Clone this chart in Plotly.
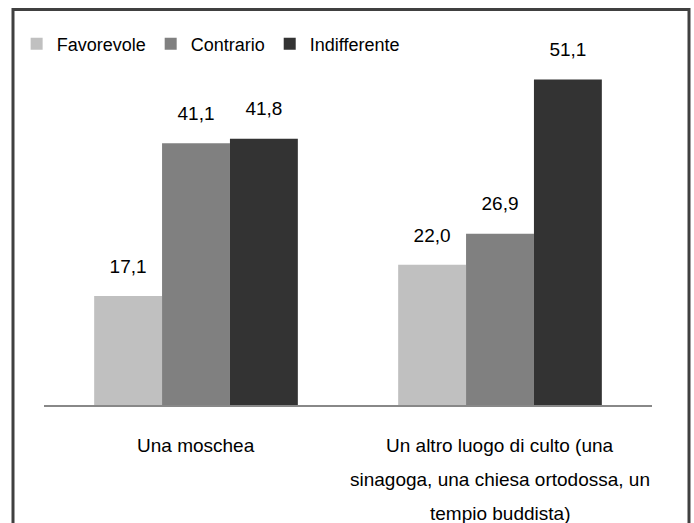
import plotly.graph_objects as go

CATEGORIES = ["Una moschea", "Un altro luogo di culto"]
CATEGORY_LINES = [
    ["Una moschea"],
    ["Un altro luogo di culto (una", "sinagoga, una chiesa ortodossa, un", "tempio buddista)"],
]
SERIES = ["Favorevole", "Contrario", "Indifferente"]
VALUES = {
    "Favorevole": [17.1, 22.0],
    "Contrario": [41.1, 26.9],
    "Indifferente": [41.8, 51.1],
}
COLORS = {"Favorevole": "#c0c0c0", "Contrario": "#808080", "Indifferente": "#333333"}

FONT = "Liberation Sans, Arial, sans-serif"
GAP = 0.33

fig = go.Figure()

for name in SERIES:
    fig.add_trace(go.Bar(
        x=CATEGORIES, y=VALUES[name],
        name=name,
        marker=dict(color=COLORS[name], line=dict(width=0)),
        hoverinfo="skip",
    ))

# value labels, grouped the same way as the bars
for name in SERIES:
    fig.add_trace(go.Scatter(
        x=CATEGORIES, y=VALUES[name],
        mode="markers+text",
        marker=dict(size=28, opacity=0),
        texttemplate="%{y:.1f}",
        textposition="top center",
        textfont=dict(size=19, color="#000000", family=FONT),
        showlegend=False,
        hoverinfo="skip",
        cliponaxis=False,
    ))

annotations = []
for cat, lines in zip(CATEGORIES, CATEGORY_LINES):
    for i, line in enumerate(lines):
        annotations.append(dict(
            x=cat, xref="x", y=0, yref="paper",
            text=line, showarrow=False,
            yanchor="middle", yshift=-40 - 34 * i,
            font=dict(size=19, color="#000000", family=FONT),
        ))

fig.update_layout(
    width=694, height=523,
    margin=dict(l=44, r=42, t=60, b=118),
    paper_bgcolor="#ffffff", plot_bgcolor="#ffffff",
    font=dict(family=FONT, size=19, color="#000000"),
    barmode="group", bargap=GAP, bargroupgap=0,
    scattermode="group", scattergap=GAP,
    separators=",.",
    showlegend=True,
    legend=dict(
        orientation="h", x=-0.045, xanchor="left", y=(405 - 44) / 345, yanchor="middle",
        font=dict(size=18, family=FONT), bgcolor="rgba(0,0,0,0)",
        traceorder="normal",
    ),
    xaxis=dict(
        showline=True, linecolor="#888888", linewidth=2,
        showticklabels=False, ticks="", showgrid=False, zeroline=False,
        fixedrange=True,
    ),
    yaxis=dict(
        range=[0, 345 / 6.37], showticklabels=False, showgrid=False,
        zeroline=False, showline=False, ticks="", fixedrange=True,
    ),
    annotations=annotations,
    shapes=[dict(
        type="rect", xref="paper", yref="paper",
        x0=(13 - 44) / 608, x1=(689 - 44) / 608,
        y0=(405 - 9.5) / 345, y1=-0.6,
        line=dict(color="#404040", width=3), fillcolor="rgba(0,0,0,0)",
    )],
)

fig.write_html(
    "out.html",
    config={"displayModeBar": False},
    post_script="document.body.style.margin = '0';",
)
